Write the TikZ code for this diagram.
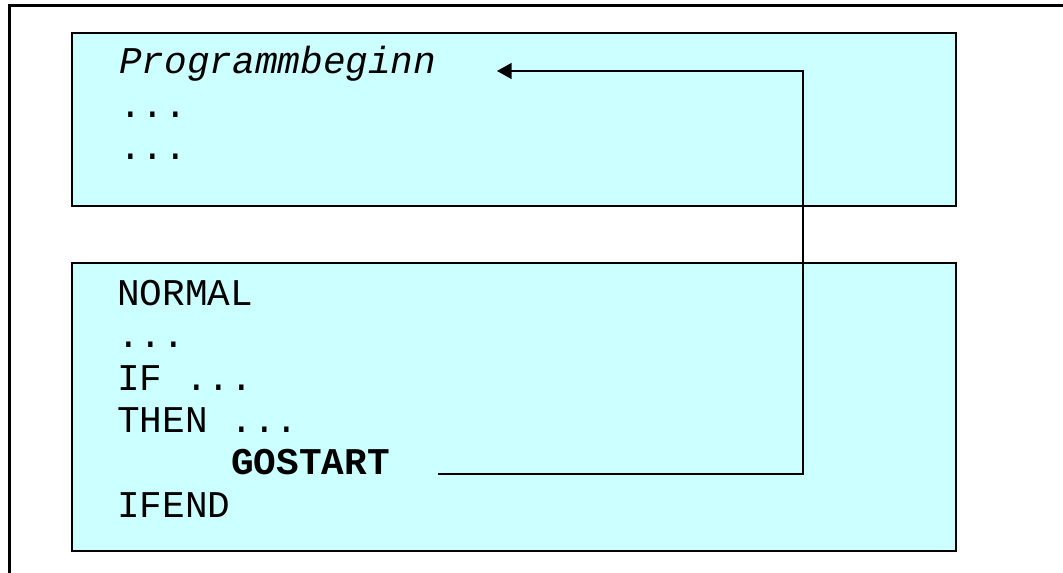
\documentclass[tikz,border=0pt]{standalone}
\usepackage{fontspec}
\setmonofont{Liberation Mono}
\usetikzlibrary{arrows.meta}
\definecolor{boxfill}{HTML}{CCFFFF}
\tikzset{
  codebox/.style={fill=boxfill, draw=black, line width=1.6pt},
  codeline/.style={anchor=base west, inner sep=0pt, font=\ttfamily\fontsize{28.3}{34}\selectfont},
  jump/.style={draw=black, line width=1.2pt, -{Triangle[length=11pt,width=12pt]}}
}
\begin{document}
\begin{tikzpicture}[x=0.75pt,y=-0.75pt]
\useasboundingbox (0,0) rectangle (1063,573);
\clip (0,0) rectangle (1063,573);
\fill[white] (0,0) rectangle (1063,573);
\draw[line width=2.25pt] (9.5,5.5) rectangle (1080,590);
% boxes
\draw[codebox] (72,33) rectangle (956,206);
\draw[codebox] (72,263) rectangle (956,551);
% box 1 text
\node[codeline] (prog) at (119,74) {\itshape Programmbeginn};
\node[codeline] (d1) at (119,118) {...};
\node[codeline] (d2) at (119,160) {...};
% box 2 text
\node[codeline] (normal) at (117,306) {NORMAL};
\node[codeline] (d3) at (117,348) {...};
\node[codeline] (if) at (117,390) {IF ...};
\node[codeline] (then) at (117,432) {THEN ...};
\node[codeline] (gostart) at (231,474) {\bfseries GOSTART};
\node[codeline] (ifend) at (117,517) {IFEND};
% connector
\coordinate (s) at (438,474);
\coordinate (e) at (497,71);
\coordinate (c) at (803,474);
\draw[jump] (s) -- (c) |- (e);
\end{tikzpicture}
\end{document}
